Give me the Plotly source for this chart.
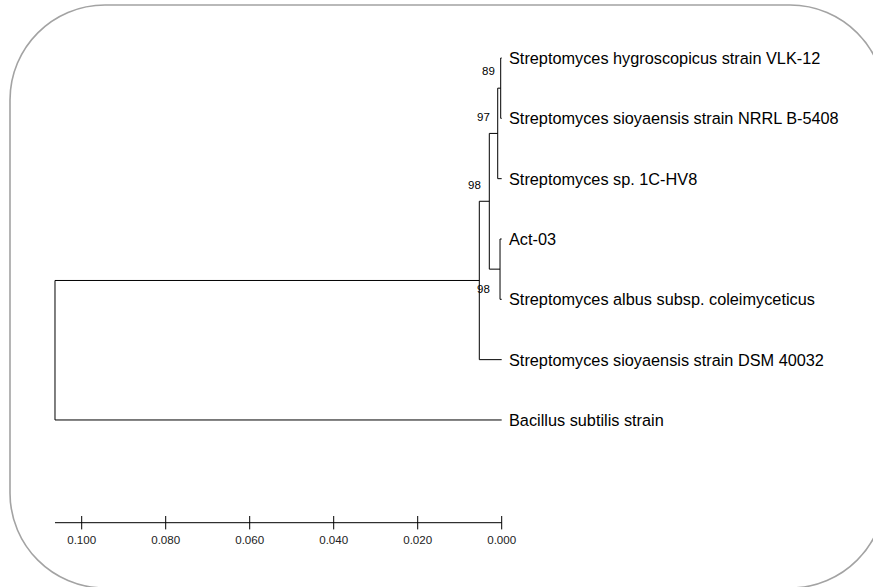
import plotly.graph_objects as go

# ---------------- data ----------------
leaf_names = [
    "Streptomyces hygroscopicus strain VLK-12",
    "Streptomyces sioyaensis strain NRRL B-5408",
    "Streptomyces sp. 1C-HV8",
    "Act-03",
    "Streptomyces albus subsp. coleimyceticus",
    "Streptomyces sioyaensis strain DSM 40032",
    "Bacillus subtilis strain",
]
leaf_dist = [0.0, 0.0, 0.0, 0.0, 0.0, 0.0, 0.0]

# internal nodes: (name, child1, child2, distance from tips)
node_names = ["E", "D", "C", "B", "A", "root"]
node_children = [("L0", "L1"), ("E", "L2"), ("L3", "L4"), ("D", "C"), ("B", "L5"), ("A", "L6")]
node_dist = [0.00024, 0.00095, 0.0004, 0.00295, 0.00533, 0.10636]

bootstrap_nodes = ["E", "D", "B", "A"]
bootstrap_values = ["89", "97", "98", "98"]

scale_ticks = [0.100, 0.080, 0.060, 0.040, 0.020, 0.000]
scale_labels = ["0.100", "0.080", "0.060", "0.040", "0.020", "0.000"]

# ---------------- geometry ----------------
W, H = 873, 587
px_per_unit = 4200.0
x_zero_px = 501.7
y0_px = 58.0
y_step = 60.33

pos = {}
for i, (n, d) in enumerate(zip(leaf_names, leaf_dist)):
    pos["L%d" % i] = (d, float(i))
for n, (c1, c2), d in zip(node_names, node_children, node_dist):
    pos[n] = (d, (pos[c1][1] + pos[c2][1]) / 2.0)

xs, ys = [], []
for n, (c1, c2), d in zip(node_names, node_children, node_dist):
    y1, y2 = pos[c1][1], pos[c2][1]
    xs += [d, d, None]
    ys += [y1, y2, None]
    for c in (c1, c2):
        xs += [d, pos[c][0], None]
        ys += [pos[c][1], pos[c][1], None]

fig = go.Figure()
fig.add_trace(go.Scatter(x=xs, y=ys, mode="lines",
                         line=dict(color="black", width=1), hoverinfo="skip",
                         showlegend=False))

# scale bar
scale_y = (522.7 - y0_px) / y_step
tick_half = 6.7 / y_step
label_y = (541 - y0_px) / y_step
root_d = node_dist[node_names.index("root")]
fig.add_trace(go.Scatter(x=[root_d, scale_ticks[-1]], y=[scale_y, scale_y], mode="lines",
                         line=dict(color="black", width=1), showlegend=False, hoverinfo="skip"))
tx, ty = [], []
for t in scale_ticks:
    tx += [t, t, None]
    ty += [scale_y - tick_half, scale_y + tick_half, None]
fig.add_trace(go.Scatter(x=tx, y=ty, mode="lines",
                         line=dict(color="black", width=1), showlegend=False, hoverinfo="skip"))
fig.add_trace(go.Scatter(x=scale_ticks, y=[label_y] * len(scale_ticks), mode="text",
                         text=scale_labels, textposition="middle center",
                         textfont=dict(family="Liberation Sans, Arial", size=11.6, color="#222"),
                         showlegend=False, hoverinfo="skip", cliponaxis=False))

# leaf labels
for i, n in enumerate(leaf_names):
    fig.add_annotation(x=leaf_dist[i], y=float(i), text=n, showarrow=False,
                       xanchor="left", yanchor="middle", xshift=5,
                       font=dict(family="Liberation Sans, Arial", size=16.3, color="black"))

# bootstrap labels
offsets = {"E": (-11.7, 16.7), "D": (-14, 16.4), "B": (-14.8, 16.3), "A": (3.7, -8.5)}
for n, v in zip(bootstrap_nodes, bootstrap_values):
    d, y = pos[n]
    dx, dy = offsets[n]
    fig.add_annotation(x=d, y=y, text=v, showarrow=False, xanchor="center", yanchor="middle",
                       xshift=dx, yshift=dy,
                       font=dict(family="Liberation Sans, Arial", size=11.5, color="black"))

# rounded frame (pixel coords -> paper)
def P(x, y):
    return "%.5f,%.5f" % (x / W, 1 - y / H)

x0, y0, x1, y1, r = 10, 5, 885, 588, 95
k = 0.5523 * r
path = ("M " + P(x0, y0 + r) +
        " C " + P(x0, y0 + r - k) + " " + P(x0 + r - k, y0) + " " + P(x0 + r, y0) +
        " L " + P(x1 - r, y0) +
        " C " + P(x1 - r + k, y0) + " " + P(x1, y0 + r - k) + " " + P(x1, y0 + r) +
        " L " + P(x1, y1 - r) +
        " C " + P(x1, y1 - r + k) + " " + P(x1 - r + k, y1) + " " + P(x1 - r, y1) +
        " L " + P(x0 + r, y1) +
        " C " + P(x0 + r - k, y1) + " " + P(x0, y1 - r + k) + " " + P(x0, y1 - r) +
        " Z")
fig.add_shape(type="path", path=path, xref="paper", yref="paper",
              line=dict(color="#a3a3a3", width=1.6), layer="below")

xr = [x_zero_px / px_per_unit, (x_zero_px - W) / px_per_unit]
r0 = -y0_px / y_step
yr = [r0 + H / y_step, r0]
fig.update_layout(
    width=W, height=H, margin=dict(l=0, r=0, t=0, b=0),
    paper_bgcolor="white", plot_bgcolor="white",
    xaxis=dict(range=xr, visible=False, showgrid=False, zeroline=False),
    yaxis=dict(range=yr, visible=False, showgrid=False, zeroline=False),
    showlegend=False, hovermode=False,
)
fig.write_html("out.html", config={"displayModeBar": False, "staticPlot": True},
               post_script="document.body.style.margin='0';document.body.style.overflow='hidden';")
